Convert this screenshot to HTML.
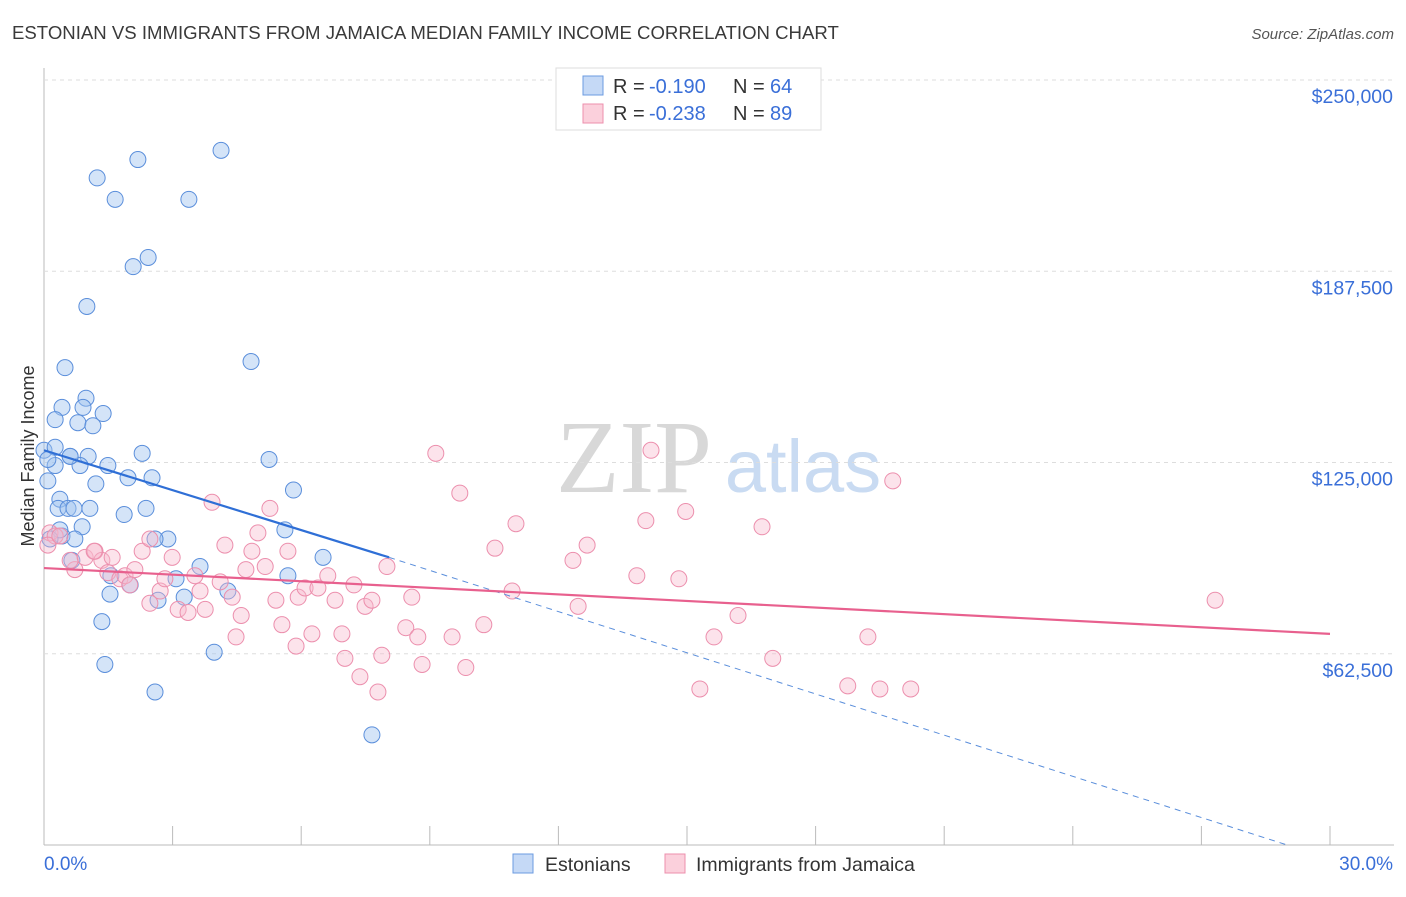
<!DOCTYPE html>
<html><head><meta charset="utf-8"><style>
body{margin:0;background:#fff;font-family:"Liberation Sans",sans-serif}
</style></head><body>
<svg id="c" width="1406" height="892" xmlns="http://www.w3.org/2000/svg">
<text x="12" y="39" font-size="18.6" fill="#3a3a3a">ESTONIAN VS IMMIGRANTS FROM JAMAICA MEDIAN FAMILY INCOME CORRELATION CHART</text>
<text x="1394" y="39" font-size="15" fill="#555" font-style="italic" text-anchor="end">Source: ZipAtlas.com</text>
<text x="634" y="492" font-size="104" fill="#d8d8d8" font-family="Liberation Serif,serif" text-anchor="middle">ZIP</text>
<text x="803" y="492" font-size="74" fill="#c9dbf2" text-anchor="middle">atlas</text>
<text x="34" y="456" font-size="18" fill="#333" text-anchor="middle" transform="rotate(-90 34 456)">Median Family Income</text>
<g id="grid"></g><g id="marks"></g><g id="lines"></g>
<g>
<rect x="556" y="68" width="265" height="62" fill="#fff" stroke="#ddd"/>
<rect x="583" y="76" width="20" height="19" fill="#c5d9f6" stroke="#6b9be0"/>
<rect x="583" y="104" width="20" height="19" fill="#fbd0dc" stroke="#ec8fad"/>
<text y="93" font-size="20" fill="#333"><tspan x="613">R =</tspan><tspan x="649" fill="#3a6fd8">-0.190</tspan><tspan x="733">N =</tspan><tspan x="770" fill="#3a6fd8">64</tspan></text>
<text y="120" font-size="20" fill="#333"><tspan x="613">R =</tspan><tspan x="649" fill="#3a6fd8">-0.238</tspan><tspan x="733">N =</tspan><tspan x="770" fill="#3a6fd8">89</tspan></text>
</g>
<g>
<rect x="513" y="854" width="20" height="19" fill="#c5d9f6" stroke="#6b9be0"/>
<text x="545" y="871" font-size="19.5" fill="#333">Estonians</text>
<rect x="665" y="854" width="20" height="19" fill="#fbd0dc" stroke="#ec8fad"/>
<text x="696" y="871" font-size="19.5" fill="#333">Immigrants from Jamaica</text>
</g>
</svg>
<script>
const yTicks=[62500,125000,187500,250000];
const yTickLabels=["$62,500","$125,000","$187,500","$250,000"];
const xEndLabels=["0.0%","30.0%"];
const blueX=[0,0.26,0.26,0.09,0.61,1.03,0.37,0.33,0.56,0.7,1.07,0.89,0.42,0.72,0.42,0.26,0.79,0.98,0.91,1.14,1.38,0.49,1.0,1.24,1.66,2.19,2.08,2.43,3.38,4.13,4.83,1.49,1.21,0.84,1.96,2.29,2.52,2.38,1.87,0.65,1.56,1.54,2.01,1.35,1.42,2.59,2.66,3.08,2.89,2.59,3.27,3.64,4.29,3.97,5.25,5.82,5.62,5.69,6.51,7.65,0.09,0.61,0.37,0.14];
const blueY=[129000,130000,124000,119000,127000,127000,113000,110000,110000,110000,110000,104000,101000,100000,143000,139000,138000,146000,143000,137000,141000,156000,176000,218000,211000,224000,189000,192000,211000,227000,158000,124000,118000,124000,120000,128000,120000,110000,108000,93000,88000,82000,85000,73000,59000,50000,80000,87000,100000,100000,81000,91000,83000,63000,126000,116000,103000,88000,94000,36000,126000,127000,103000,100000];
const pinkX=[0.14,0.26,0.09,0.37,0.72,0.61,0.96,1.19,1.35,1.59,1.49,1.77,1.89,2.12,2.0,2.29,2.47,2.71,2.82,2.99,3.13,3.36,3.52,3.76,3.64,3.92,4.11,4.22,4.39,4.48,4.6,4.71,4.85,4.99,5.16,5.27,5.41,5.55,5.69,5.88,5.93,6.09,6.25,6.39,6.62,6.79,6.95,7.02,7.23,7.37,7.49,7.65,7.79,7.88,8.0,8.44,8.58,8.72,8.82,9.14,9.52,9.7,9.84,10.26,10.52,10.92,11.01,12.34,12.46,12.67,13.83,14.04,14.16,14.81,14.97,15.3,15.63,16.19,16.75,17.0,18.75,19.22,19.5,19.8,20.22,27.32,1.17,2.47];
const pinkY=[102000,101000,98000,101000,90000,93000,94000,96000,93000,94000,89000,87000,88000,90000,85000,96000,100000,83000,87000,94000,77000,76000,88000,77000,83000,112000,86000,98000,81000,68000,75000,90000,96000,102000,91000,110000,80000,72000,96000,65000,81000,84000,69000,84000,88000,80000,69000,61000,85000,55000,78000,80000,50000,62000,91000,71000,81000,68000,59000,128000,68000,115000,58000,72000,97000,83000,105000,93000,78000,98000,88000,106000,129000,87000,109000,51000,68000,75000,104000,61000,52000,68000,51000,119000,51000,80000,96000,79000];
const blueTrend=[[0,129000],[8.05,94000],[29.0,0]];
const pinkTrend=[[0,90500],[30,69000]];
const NS="http://www.w3.org/2000/svg";
const X0=44,XW=1286,Y0=845,YH=765;
const sx=v=>X0+v/30*XW;
const sy=v=>Y0-v/250000*YH;
function mk(t,a,p){const e=document.createElementNS(NS,t);for(const k in a)e.setAttribute(k,a[k]);p.appendChild(e);return e;}
const grid=document.getElementById('grid'),marks=document.getElementById('marks'),lines=document.getElementById('lines');
const ax=mk('line',{x1:44,y1:68,x2:44,y2:845,stroke:'#bbb'},grid);


const bx=mk('line',{x1:44,y1:845,x2:1394,y2:845,stroke:'#bbb'},grid);


yTicks.forEach((v,i)=>{
 const g=mk('line',{x1:44,x2:1394,y1:sy(v),y2:sy(v),stroke:'#ddd','stroke-dasharray':'4,4'},grid);
 
 
 const t=mk('text',{x:1393,y:sy(v)+23,'font-size':19.5,fill:'#3a6fd8','text-anchor':'end'},grid);
 t.textContent=yTickLabels[i];
 
 
});
for(let i=0;i<=10;i++){
 const l=mk('line',{x1:sx(i*3),x2:sx(i*3),y1:826,y2:845,stroke:'#bbb'},grid);
 
 
}
[[44,'start',0],[1393,'end',1]].forEach(([x,a,i])=>{
 const t=mk('text',{x:x,y:870,'font-size':19,fill:'#3a6fd8','text-anchor':a},grid);
 t.textContent=xEndLabels[i];
 
 
});
blueX.forEach((v,i)=>{
 const c=mk('circle',{cx:sx(v),cy:sy(blueY[i]),r:8,fill:'rgba(160,195,240,0.45)',stroke:'#5a8edb','stroke-width':1},marks);
 
 
});
pinkX.forEach((v,i)=>{
 const c=mk('circle',{cx:sx(v),cy:sy(pinkY[i]),r:8,fill:'rgba(248,185,205,0.4)',stroke:'#ec8fad','stroke-width':1},marks);
 
 
});
const b1=mk('line',{x1:sx(blueTrend[0][0]),y1:sy(blueTrend[0][1]),x2:sx(blueTrend[1][0]),y2:sy(blueTrend[1][1]),stroke:'#2f6fd6','stroke-width':2.2},lines);


const b2=mk('line',{x1:sx(blueTrend[1][0]),y1:sy(blueTrend[1][1]),x2:sx(blueTrend[2][0]),y2:sy(blueTrend[2][1]),stroke:'#5a8edb','stroke-width':1,'stroke-dasharray':'6,5'},lines);


const p1=mk('line',{x1:sx(pinkTrend[0][0]),y1:sy(pinkTrend[0][1]),x2:sx(pinkTrend[1][0]),y2:sy(pinkTrend[1][1]),stroke:'#e8608e','stroke-width':2.2},lines);


</script>
</body></html>
